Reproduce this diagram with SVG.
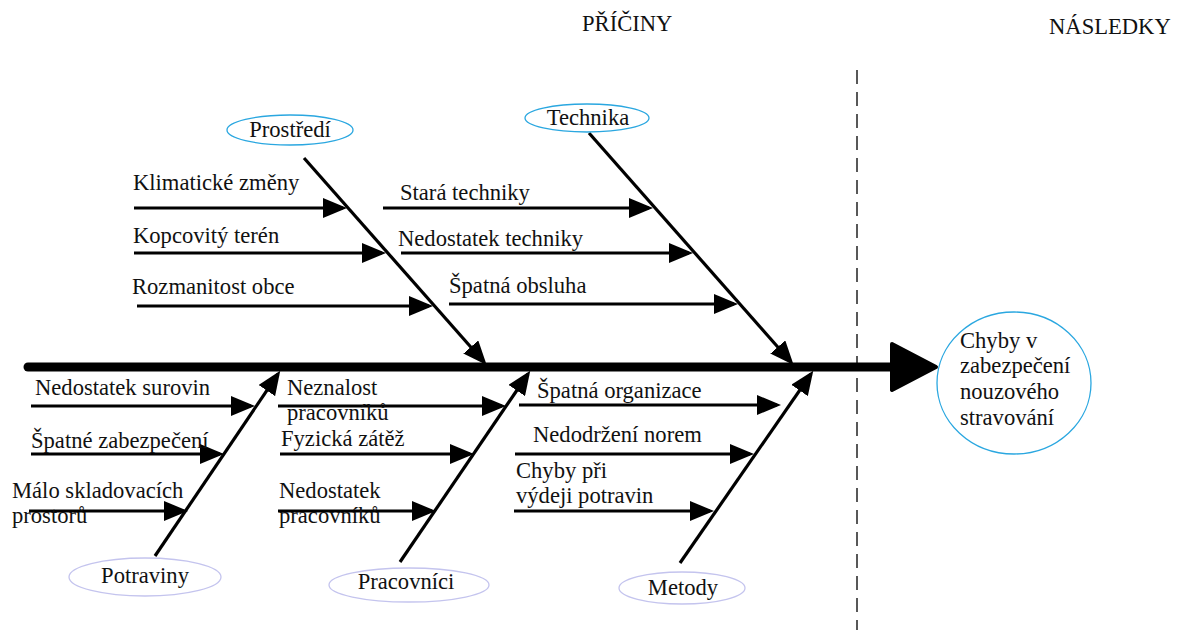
<svg xmlns="http://www.w3.org/2000/svg" width="1184" height="630" viewBox="0 0 1184 630">
<style>
text{font-family:"Liberation Serif","Times New Roman",serif;font-size:22.6px;fill:#111}
.c{text-anchor:middle}
.sub{stroke:#000;stroke-width:3;fill:none}
.br{stroke:#000;stroke-width:3.2;fill:none}
.eb{fill:#fff;stroke:#2aa7e0;stroke-width:1.3}
.ep{fill:#fff;stroke:#c4c4ee;stroke-width:1.3}
</style>
<defs>
<marker id="ah" markerUnits="userSpaceOnUse" viewBox="0 0 24 20" refX="20" refY="10" markerWidth="24" markerHeight="20" orient="auto">
<path d="M0,0 L24,10 L0,20 Z" fill="#000"/>
</marker>
</defs>
<rect width="1184" height="630" fill="#fff"/>
<text x="582" y="31">PŘÍČINY</text>
<text x="1049" y="34">NÁSLEDKY</text>
<line x1="857" y1="70" x2="857" y2="630" stroke="#222" stroke-width="1.5" stroke-dasharray="14 8"/>
<g id="connectors">
<line x1="28" y1="367" x2="900" y2="367" stroke="#000" stroke-width="9" stroke-linecap="round"/>
<path d="M892,344 L936,367 L892,390 Z" fill="#000" stroke="#000" stroke-width="4" stroke-linejoin="round"/>
<line class="br" x1="304" y1="158" x2="484" y2="362" marker-end="url(#ah)"/>
<line class="br" x1="589" y1="133" x2="791" y2="362" marker-end="url(#ah)"/>
<line class="br" x1="155" y1="556" x2="278" y2="374" marker-end="url(#ah)"/>
<line class="br" x1="400" y1="562" x2="528" y2="374" marker-end="url(#ah)"/>
<line class="br" x1="680" y1="563" x2="811" y2="374" marker-end="url(#ah)"/>
<line class="sub" x1="134" y1="208" x2="343" y2="208" marker-end="url(#ah)"/>
<line class="sub" x1="134" y1="253" x2="382" y2="253" marker-end="url(#ah)"/>
<line class="sub" x1="137" y1="306" x2="429" y2="306" marker-end="url(#ah)"/>
<line class="sub" x1="383" y1="208" x2="649" y2="208" marker-end="url(#ah)"/>
<line class="sub" x1="401" y1="253" x2="689" y2="253" marker-end="url(#ah)"/>
<line class="sub" x1="449" y1="304" x2="734" y2="304" marker-end="url(#ah)"/>
<line class="sub" x1="31" y1="406" x2="251" y2="406" marker-end="url(#ah)"/>
<line class="sub" x1="31" y1="454" x2="220" y2="454" marker-end="url(#ah)"/>
<line class="sub" x1="29" y1="511" x2="184" y2="511" marker-end="url(#ah)"/>
<line class="sub" x1="278" y1="406" x2="502" y2="406" marker-end="url(#ah)"/>
<line class="sub" x1="280" y1="454" x2="470" y2="454" marker-end="url(#ah)"/>
<line class="sub" x1="278" y1="511" x2="432" y2="511" marker-end="url(#ah)"/>
<line class="sub" x1="519" y1="405" x2="777" y2="405" marker-end="url(#ah)"/>
<line class="sub" x1="515" y1="454" x2="750" y2="454" marker-end="url(#ah)"/>
<line class="sub" x1="514" y1="511" x2="710" y2="511" marker-end="url(#ah)"/>
</g>
<g id="causes-labels">
<text x="133" y="190">Klimatické změny</text>
<text x="133" y="243">Kopcovitý terén</text>
<text x="132" y="294">Rozmanitost obce</text>
<text x="400" y="200">Stará techniky</text>
<text x="398" y="246">Nedostatek techniky</text>
<text x="449" y="293">Špatná obsluha</text>
<text x="35" y="395">Nedostatek surovin</text>
<text x="31" y="448">Špatné zabezpečení</text>
<text x="12" y="498">Málo skladovacích</text>
<text x="12" y="523">prostorů</text>
<text x="287" y="395">Neznalost</text>
<text x="287" y="420">pracovníků</text>
<text x="281" y="446">Fyzická zátěž</text>
<text x="279" y="498">Nedostatek</text>
<text x="279" y="523">pracovníků</text>
<text x="537" y="398">Špatná organizace</text>
<text x="533" y="442">Nedodržení norem</text>
<text x="516" y="478">Chyby při</text>
<text x="516" y="503">výdeji potravin</text>
</g>
<g id="prostredi"><ellipse class="eb" cx="290" cy="130" rx="63" ry="15"/><text class="c" x="290" y="137">Prostředí</text></g>
<g id="technika"><ellipse class="eb" cx="587" cy="118" rx="62" ry="14"/><text class="c" x="588" y="125">Technika</text></g>
<g id="potraviny"><ellipse class="ep" cx="145" cy="577" rx="76" ry="19"/><text class="c" x="145" y="583">Potraviny</text></g>
<g id="pracovnici"><ellipse class="ep" cx="409" cy="585" rx="80" ry="17"/><text class="c" x="406" y="589">Pracovníci</text></g>
<g id="metody"><ellipse class="ep" cx="682" cy="588" rx="63" ry="16"/><text class="c" x="683" y="595">Metody</text></g>
<g id="nasledek">
<ellipse cx="1014" cy="383" rx="77" ry="71" fill="#fff" stroke="#2aa7e0" stroke-width="1.3"/>
<text x="960" y="348">Chyby v</text>
<text x="960" y="373">zabezpečení</text>
<text x="960" y="399">nouzového</text>
<text x="960" y="425">stravování</text>
</g>
</svg>
